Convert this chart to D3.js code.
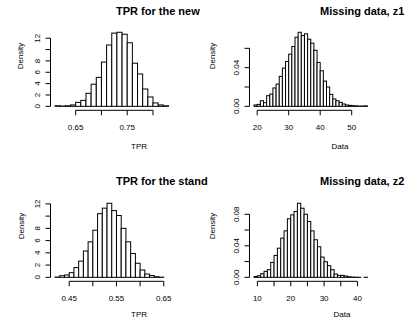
<!DOCTYPE html>
<html>
<head>
<meta charset="utf-8">
<script src="https://cdn.jsdelivr.net/npm/d3@7"></script>
<style>
  body { margin: 0; background: #fff; }
  svg text { font-family: "Liberation Sans", Arial, Helvetica, sans-serif; fill: #000; }
</style>
</head>
<body>
<svg id="fig" width="408" height="323"></svg>
<script>
// ---- Histogram densities (one value per bin) ----
const tprNewDensity = [0.1, 0.05, 0.1, 0.25, 0.7, 1.05, 2.3, 3.9, 5.1, 7.8, 10.8,
  12.9, 13.05, 12.7, 11.2, 7.6, 5.7, 3.05, 1.65, 0.6, 0.25, 0.1];
const tprNewBinStart = 0.61, tprNewBinWidth = 0.01;

const z1Density = [0.0014, 0.002, 0.0058, 0.0038, 0.011, 0.0127, 0.019, 0.023, 0.031,
  0.0395, 0.0464, 0.054, 0.0619, 0.0715, 0.0766, 0.0732, 0.075, 0.0694, 0.0653, 0.058,
  0.0454, 0.0368, 0.0261, 0.02, 0.0124, 0.0076, 0.0058, 0.0041, 0.0024, 0.0014, 0.001,
  0.0007, 0.0005, 0.0002, 0.0003, 0.0005];
const z1BinStart = 19, z1BinWidth = 1;

const tprStdDensity = [0.05, 0.27, 0.38, 0.76, 1.6, 2.65, 4.3, 5.8, 7.7, 10.4, 11.3,
  12.1, 10.9, 10.1, 8.0, 5.8, 3.9, 2.3, 1.2, 0.54, 0.3, 0.1, 0.03, 0];
const tprStdBinStart = 0.42, tprStdBinWidth = 0.01;

const z2Density = [0.001, 0.002, 0.0046, 0.0076, 0.0097, 0.019, 0.0278, 0.037, 0.0498,
  0.059, 0.0743, 0.0793, 0.0835, 0.094, 0.0877, 0.080, 0.0709, 0.059, 0.0477, 0.0388,
  0.0257, 0.0198, 0.0148, 0.0097, 0.0042, 0.0025, 0.0025, 0.0017, 0.0008, 0.0003,
  0.0002, 0.0001, 0, 0.0001];
const z2BinStart = 9, z2BinWidth = 1;

// ---- Titles, axis labels and ticks ----
const panelTitles = ["TPR for the new", "Missing data, z1", "TPR for the stand", "Missing data, z2"];
const xAxisTitles = ["TPR", "Data", "TPR", "Data"];
const yAxisTitle = "Density";

const tprNewXTicks = [0.65, 0.70, 0.75, 0.80];
const tprNewXLabels = ["0.65", "", "0.75", ""];
const z1XTicks = [20, 30, 40, 50];
const z1XLabels = ["20", "30", "40", "50"];
const tprStdXTicks = [0.45, 0.50, 0.55, 0.60, 0.65];
const tprStdXLabels = ["0.45", "", "0.55", "", "0.65"];
const z2XTicks = [10, 15, 20, 25, 30, 35, 40];
const z2XLabels = ["10", "", "20", "", "30", "", "40"];

const tprYTicks = [0, 2, 4, 6, 8, 10, 12];
const tprYLabels = ["0", "2", "4", "6", "8", "", "12"];
const z1YTicks = [0, 0.02, 0.04, 0.06];
const z1YLabels = ["0.00", "", "0.04", ""];
const z2YTicks = [0, 0.02, 0.04, 0.06, 0.08];
const z2YLabels = ["0.00", "", "0.04", "", "0.08"];

// ---- Panel assembly ----
const panels = [
  { dens: tprNewDensity, start: tprNewBinStart, width: tprNewBinWidth,
    xt: tprNewXTicks, xl: tprNewXLabels, yt: tprYTicks, yl: tprYLabels,
    title: panelTitles[0], xlab: xAxisTitles[0],
    box: { left: 50.5, top: 29.3 }, titleX: 116, titleY: 15, xlabX: 139, xlabY: 149, ylabX: 20, ylabY: 56 },
  { dens: z1Density, start: z1BinStart, width: z1BinWidth,
    xt: z1XTicks, xl: z1XLabels, yt: z1YTicks, yl: z1YLabels,
    title: panelTitles[1], xlab: xAxisTitles[1],
    box: { left: 249.5, top: 29.3 }, titleX: 320, titleY: 15, xlabX: 340, xlabY: 149, ylabX: 211.5, ylabY: 56 },
  { dens: tprStdDensity, start: tprStdBinStart, width: tprStdBinWidth,
    xt: tprStdXTicks, xl: tprStdXLabels, yt: tprYTicks, yl: tprYLabels,
    title: panelTitles[2], xlab: xAxisTitles[2],
    box: { left: 50.5, top: 200.3 }, titleX: 116, titleY: 185, xlabX: 139, xlabY: 317, ylabX: 21, ylabY: 226 },
  { dens: z2Density, start: z2BinStart, width: z2BinWidth,
    xt: z2XTicks, xl: z2XLabels, yt: z2YTicks, yl: z2YLabels,
    title: panelTitles[3], xlab: xAxisTitles[3],
    box: { left: 249.5, top: 200.3 }, titleX: 320, titleY: 185, xlabX: 342, xlabY: 317, ylabX: 212, ylabY: 226 }
];

const plotW = 122.5, plotH = 80, tickLen = 5;
const svg = d3.select("#fig");

panels.forEach(p => {
  const bins = p.dens.map((d, i) => ({ x0: p.start + i * p.width, x1: p.start + (i + 1) * p.width, d }));
  const lo = bins[0].x0, hi = bins[bins.length - 1].x1;
  const ext = 0.04 * (hi - lo);
  const ymax = d3.max(p.dens);
  const L = p.box.left, T = p.box.top, B = T + plotH;

  const x = d3.scaleLinear().domain([lo - ext, hi + ext]).range([L, L + plotW]);
  const y = d3.scaleLinear().domain([-0.04 * ymax, 1.04 * ymax]).range([B, T]);

  const g = svg.append("g");

  // bars
  g.selectAll("rect.bar").data(bins).enter().append("rect")
    .attr("class", "bar")
    .attr("x", b => x(b.x0))
    .attr("width", b => x(b.x1) - x(b.x0))
    .attr("y", b => y(b.d))
    .attr("height", b => y(0) - y(b.d))
    .attr("fill", "#fff")
    .attr("stroke", "#000")
    .attr("stroke-width", 1);

  // x axis
  const axY = B + 1;
  g.append("line")
    .attr("x1", x(p.xt[0])).attr("x2", x(p.xt[p.xt.length - 1]))
    .attr("y1", axY).attr("y2", axY)
    .attr("stroke", "#000").attr("stroke-width", 1);
  g.selectAll("line.xt").data(p.xt).enter().append("line")
    .attr("x1", d => x(d)).attr("x2", d => x(d))
    .attr("y1", axY).attr("y2", axY + tickLen)
    .attr("stroke", "#000").attr("stroke-width", 1);
  g.selectAll("text.xtl").data(p.xt).enter().append("text")
    .attr("x", d => x(d)).attr("y", axY + 19.5)
    .attr("text-anchor", "middle").attr("font-size", 8)
    .text((d, i) => p.xl[i]);

  // y axis
  g.append("line")
    .attr("x1", L).attr("x2", L)
    .attr("y1", y(p.yt[0])).attr("y2", y(p.yt[p.yt.length - 1]))
    .attr("stroke", "#000").attr("stroke-width", 1);
  g.selectAll("line.yt").data(p.yt).enter().append("line")
    .attr("x1", L - tickLen).attr("x2", L)
    .attr("y1", d => y(d)).attr("y2", d => y(d))
    .attr("stroke", "#000").attr("stroke-width", 1);
  g.selectAll("text.ytl").data(p.yt).enter().append("text")
    .attr("transform", d => `translate(${L - 11},${y(d)}) rotate(-90)`)
    .attr("text-anchor", "middle").attr("font-size", 8)
    .text((d, i) => p.yl[i]);

  // titles
  g.append("text")
    .attr("x", p.titleX).attr("y", p.titleY)
    .attr("font-size", 11).attr("font-weight", "bold")
    .text(p.title);
  g.append("text")
    .attr("x", p.xlabX).attr("y", p.xlabY)
    .attr("text-anchor", "middle").attr("font-size", 8)
    .text(p.xlab);
  g.append("text")
    .attr("transform", `translate(${p.ylabX + 3},${p.ylabY}) rotate(-90)`)
    .attr("text-anchor", "middle").attr("font-size", 8)
    .text(yAxisTitle);
});
</script>
</body>
</html>
